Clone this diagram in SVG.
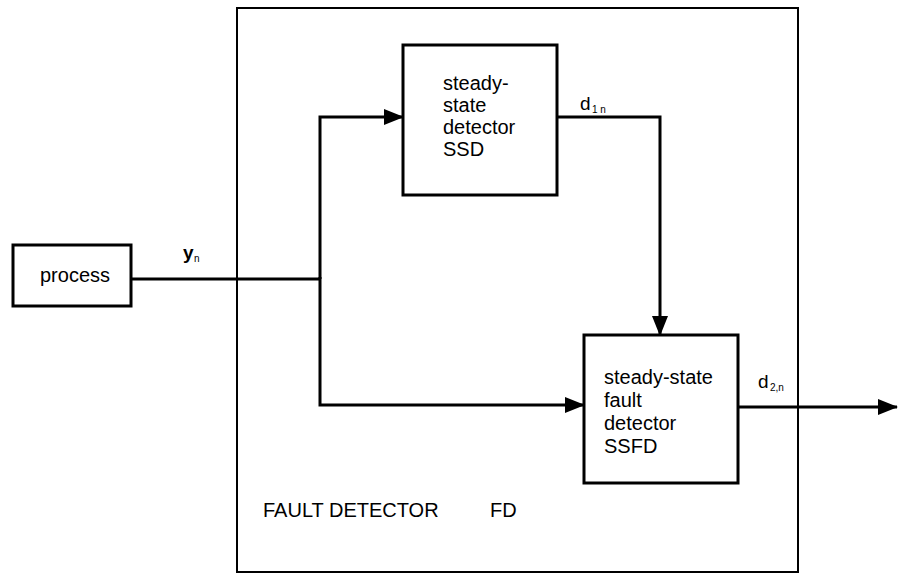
<svg xmlns="http://www.w3.org/2000/svg" width="898" height="576" viewBox="0 0 898 576">
<style>
.box{fill:#fff;stroke:#000;stroke-width:3}
.fd{fill:none;stroke:#000;stroke-width:2}
.t{font-family:"Liberation Sans",Arial,sans-serif;font-size:20px;fill:#000}
.lb{font-family:"Liberation Sans",Arial,sans-serif;font-size:19px;fill:#000}
.sub{font-family:"Liberation Sans",Arial,sans-serif;font-size:10px;fill:#000}
.c{fill:none;stroke:#000;stroke-width:3}
</style>
<defs>
<marker id="ah" markerUnits="userSpaceOnUse" markerWidth="20" markerHeight="16" refX="19" refY="8" orient="auto">
<path d="M0,0 L20,8 L0,16 Z" fill="#000"/>
</marker>
</defs>
<g id="fd">
<rect class="fd" x="237" y="8" width="561" height="564"/>
<text class="t" x="263" y="517">FAULT DETECTOR</text>
<text class="t" x="490" y="517">FD</text>
</g>
<g id="process">
<rect class="box" x="13" y="245" width="118" height="61"/>
<text class="t" x="75" y="282" text-anchor="middle">process</text>
</g>
<g id="ssd">
<rect class="box" x="403" y="45" width="154" height="150"/>
<text class="t" x="443" y="90">steady-</text>
<text class="t" x="443" y="112">state</text>
<text class="t" x="443" y="134">detector</text>
<text class="t" x="443" y="156">SSD</text>
</g>
<g id="ssfd">
<rect class="box" x="584" y="335" width="154" height="148"/>
<text class="t" x="604" y="384">steady-state</text>
<text class="t" x="604" y="407">fault</text>
<text class="t" x="604" y="430">detector</text>
<text class="t" x="604" y="453">SSFD</text>
</g>
<g id="connectors">
<path class="c" d="M131,279 H320"/>
<path class="c" d="M320,279 V117 H403" marker-end="url(#ah)"/>
<path class="c" d="M320,277 V405 H584" marker-end="url(#ah)"/>
<path class="c" d="M557,117 H660 V335" marker-end="url(#ah)"/>
<path class="c" d="M738,407 H897" marker-end="url(#ah)"/>
</g>
<g id="labels">
<text class="lb" x="183" y="259" font-weight="bold">y</text><text class="sub" x="194" y="262">n</text>
<text class="lb" x="580" y="110">d</text><text class="sub" x="592" y="113">1 n</text>
<text class="lb" x="758" y="388">d</text><text class="sub" x="770" y="391">2,n</text>
</g>
</svg>
